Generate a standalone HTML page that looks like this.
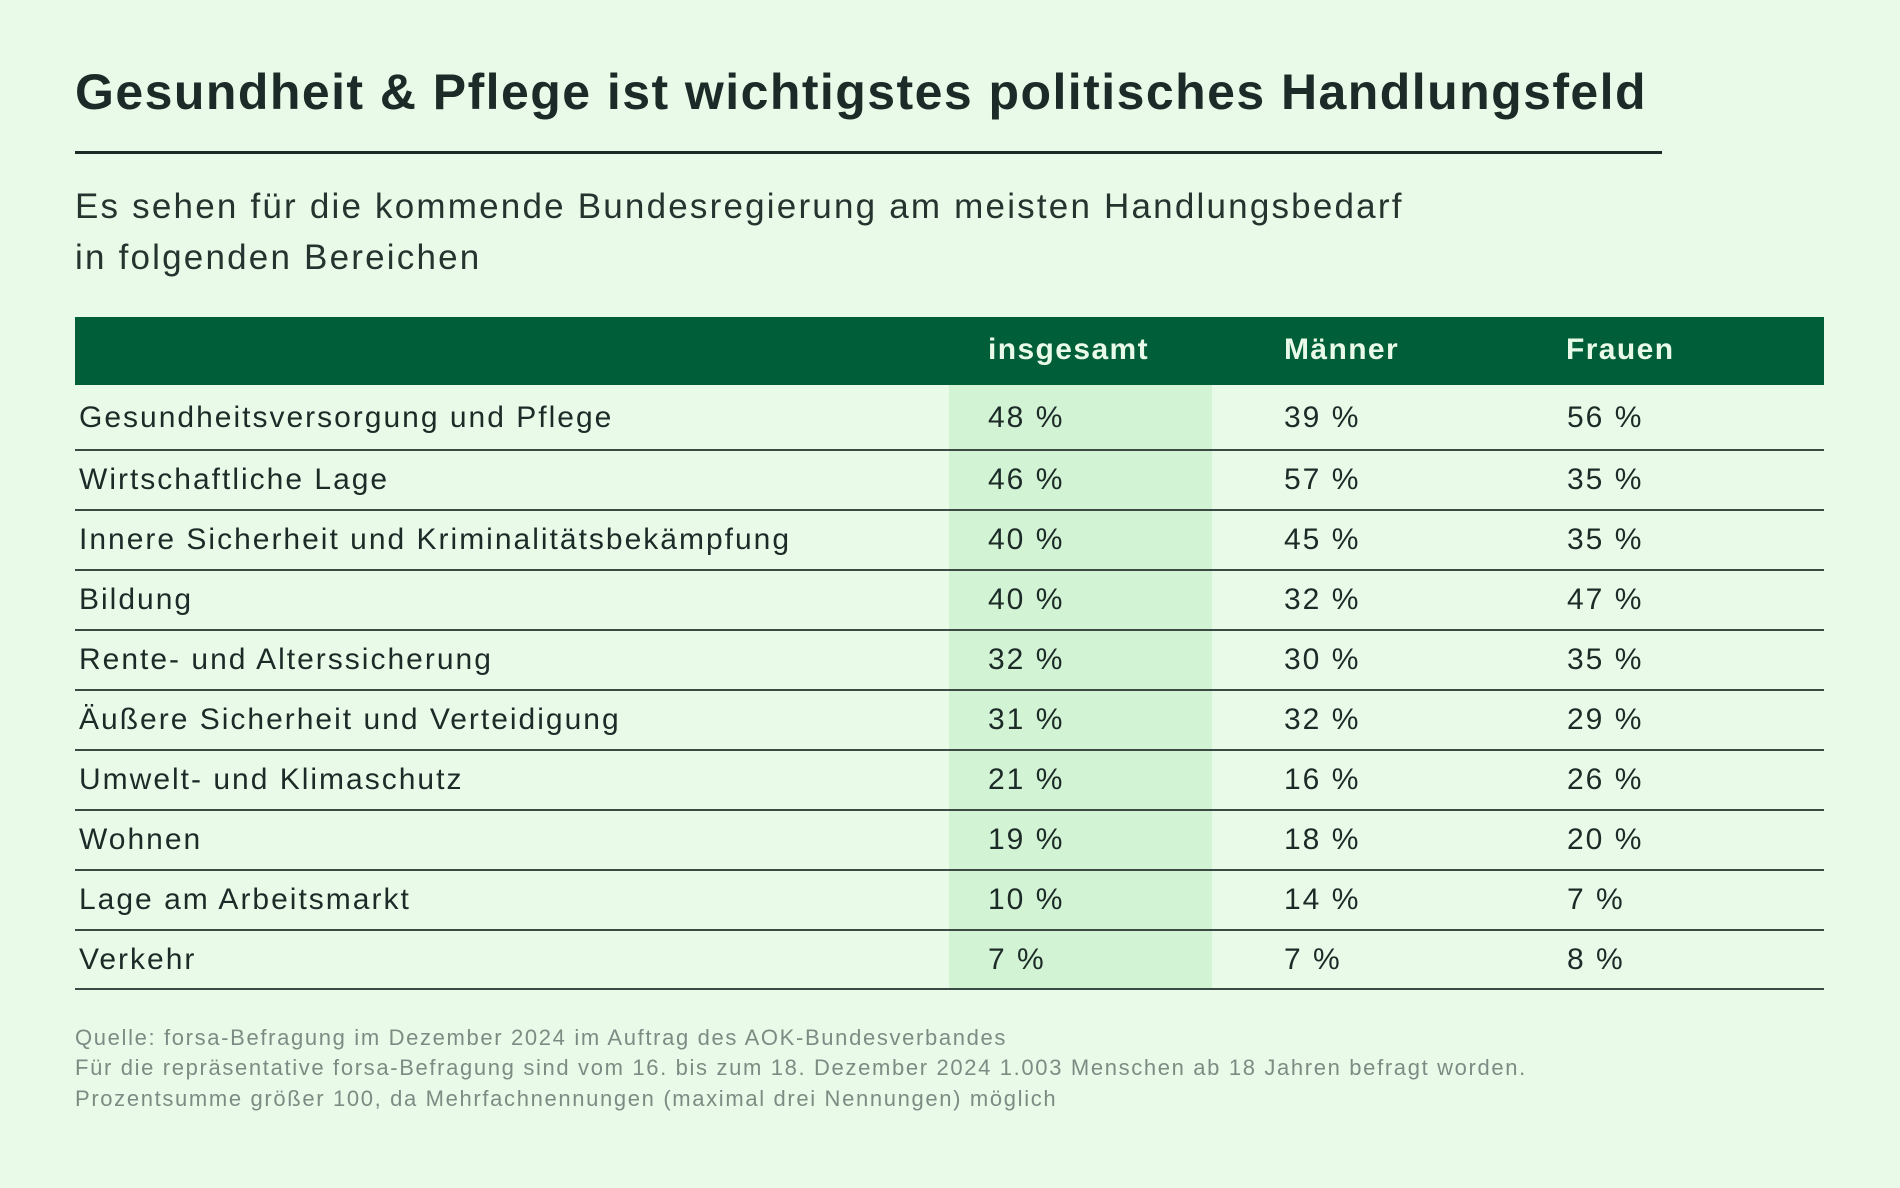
<!DOCTYPE html>
<html><head><meta charset="utf-8"><style>
body{margin:0;width:1900px;height:1188px;background:#e9fbe8;font-family:"Liberation Sans",sans-serif;color:#1d2b28;position:relative;overflow:hidden}
.a{position:absolute;white-space:nowrap}
.t{left:75px;top:63px;font-size:50px;font-weight:bold;letter-spacing:1.45px}
.rule{left:75px;top:151px;width:1587px;height:3px;background:#1d2b28}
.sub{left:75px;font-size:35px;color:#26332f;letter-spacing:2.2px}
.hdr{left:75px;top:317px;width:1749px;height:68px;background:#005e38}
.hc{top:333px;font-size:30px;font-weight:bold;color:#e9fbe8;letter-spacing:1.4px}
.hl{left:949px;top:385px;width:263px;height:604px;background:#d2f3d4}
.line{left:75px;width:1749px;height:2px;background:#3b4a45}
.c{font-size:30px;color:#1d2b28;letter-spacing:2px}
.f{left:75px;font-size:22px;color:#7c8c84;letter-spacing:1.65px}
</style></head><body>
<div class="a t">Gesundheit &amp; Pflege ist wichtigstes politisches Handlungsfeld</div>
<div class="a rule"></div>
<div class="a sub" style="top:187px">Es sehen für die kommende Bundesregierung am meisten Handlungsbedarf</div>
<div class="a sub" style="top:238px">in folgenden Bereichen</div>
<div class="a hdr"></div>
<div class="a hc" style="left:988px">insgesamt</div>
<div class="a hc" style="left:1284px">Männer</div>
<div class="a hc" style="left:1566px">Frauen</div>
<div class="a hl"></div>
<div id="rows"></div>
<div class="a f" style="top:1025px">Quelle: forsa-Befragung im Dezember 2024 im Auftrag des AOK-Bundesverbandes</div>
<div class="a f" style="top:1055px">Für die repräsentative forsa-Befragung sind vom 16. bis zum 18. Dezember 2024 1.003 Menschen ab 18 Jahren befragt worden.</div>
<div class="a f" style="top:1086px">Prozentsumme größer 100, da Mehrfachnennungen (maximal drei Nennungen) möglich</div>
<script>
var d=[["Gesundheitsversorgung und Pflege","48 %","39 %","56 %"],["Wirtschaftliche Lage","46 %","57 %","35 %"],["Innere Sicherheit und Kriminalitätsbekämpfung","40 %","45 %","35 %"],["Bildung","40 %","32 %","47 %"],["Rente- und Alterssicherung","32 %","30 %","35 %"],["Äußere Sicherheit und Verteidigung","31 %","32 %","29 %"],["Umwelt- und Klimaschutz","21 %","16 %","26 %"],["Wohnen","19 %","18 %","20 %"],["Lage am Arbeitsmarkt","10 %","14 %","7 %"],["Verkehr","7 %","7 %","8 %"]];
var lines=[449,509,569,629,689,749,809,869,929,988],h="",tops=[385].concat(lines);
d.forEach(function(r,i){var y=(tops[i]+lines[i])/2-16;
h+='<div class="a c" style="left:79px;top:'+y+'px">'+r[0]+'</div><div class="a c" style="left:988px;top:'+y+'px">'+r[1]+'</div><div class="a c" style="left:1284px;top:'+y+'px">'+r[2]+'</div><div class="a c" style="left:1567px;top:'+y+'px">'+r[3]+'</div><div class="a line" style="top:'+lines[i]+'px"></div>';});
document.getElementById("rows").outerHTML=h;
</script>
</body></html>
